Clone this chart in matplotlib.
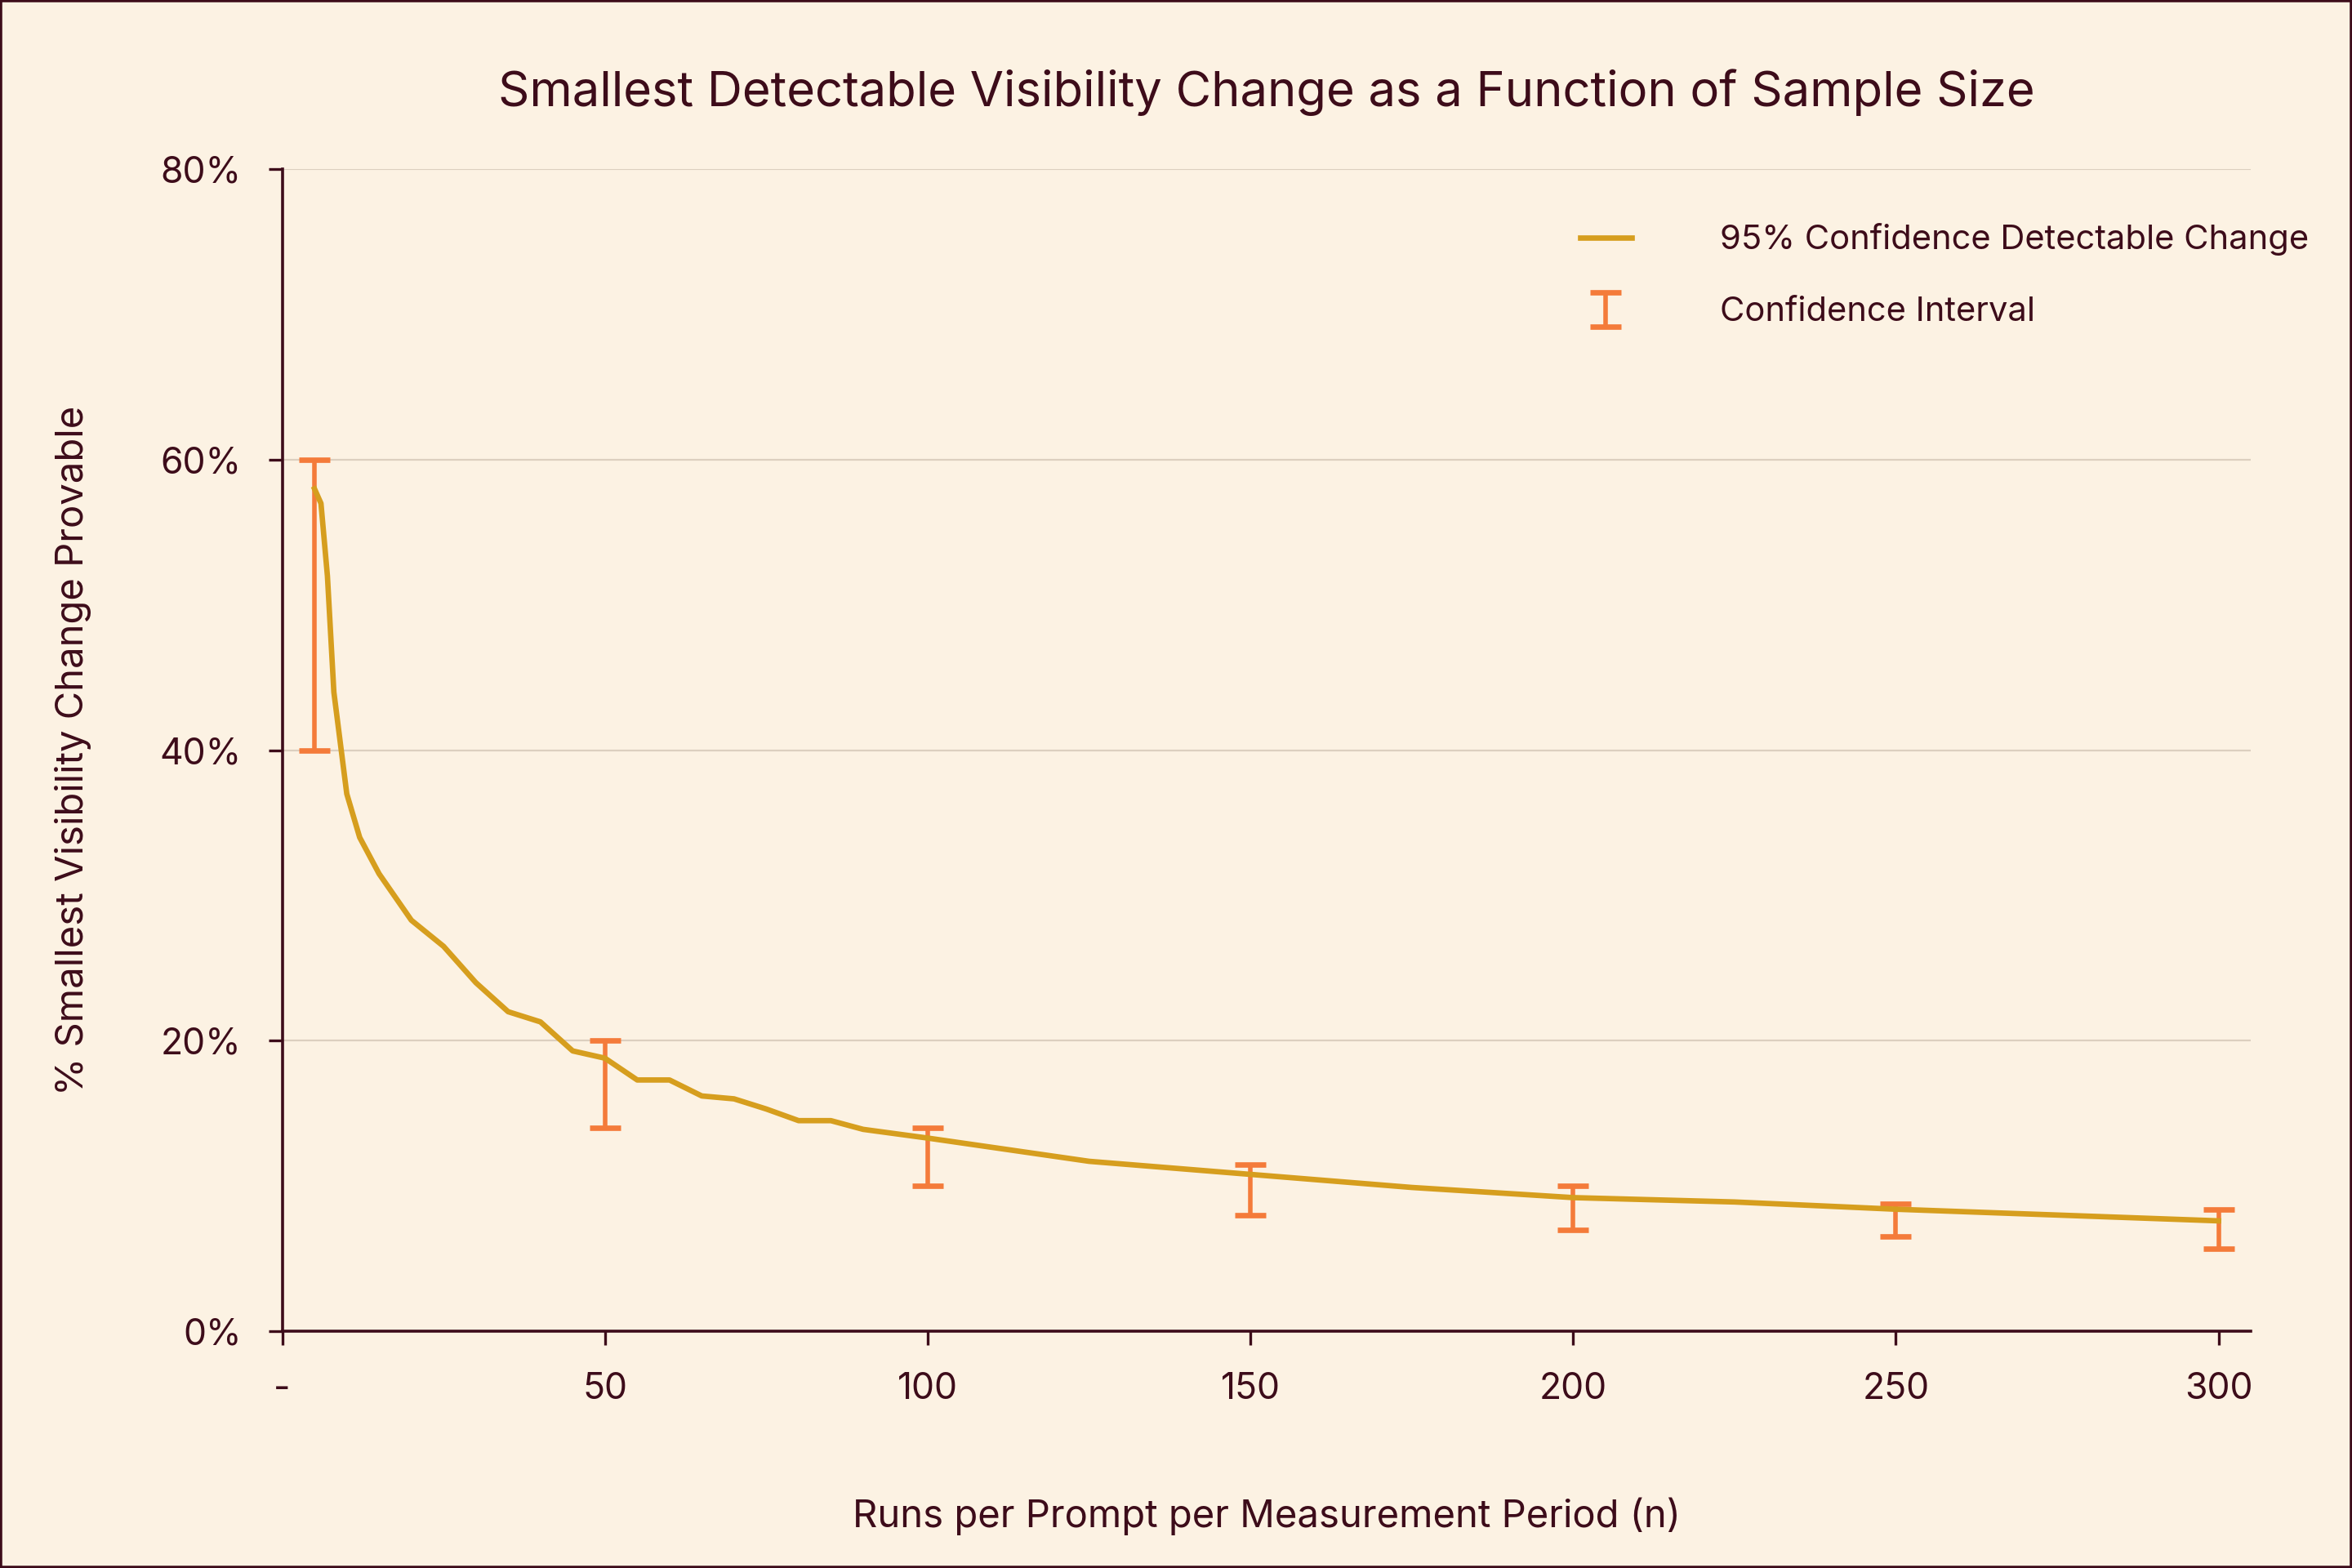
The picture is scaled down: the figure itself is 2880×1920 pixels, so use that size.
import matplotlib.pyplot as plt
import numpy as np

# Data
n_runs = [5, 6, 7, 8, 10, 12, 15, 20, 25, 30, 35, 40, 45, 50, 55, 60, 65, 70, 75, 80, 85, 90, 95,
          100, 125, 150, 175, 200, 225, 250, 275, 300]
detectable = [58.0, 57.0, 52.0, 44.0, 37.0, 34.0, 31.5, 28.3, 26.5, 24.0, 22.0, 21.3, 19.3, 18.8,
              17.3, 17.3, 16.2, 16.0, 15.3, 14.5, 14.5, 13.9, 13.6, 13.3, 11.7, 10.8, 9.9, 9.2,
              8.9, 8.4, 8.0, 7.6]

ci_x = [5, 50, 100, 150, 200, 250, 300]
ci_low = [40.0, 14.0, 10.0, 8.0, 7.0, 6.5, 5.7]
ci_high = [60.0, 20.0, 14.0, 11.5, 10.0, 8.8, 8.4]

x_ticks = [0, 50, 100, 150, 200, 250, 300]
x_tick_labels = ['-', '50', '100', '150', '200', '250', '300']

bg = '#FCF2E3'
ink = '#3D0C1A'
gold = '#D69E1E'
orange = '#F47B3A'

plt.rcParams['font.family'] = ['Inter', 'DejaVu Sans']

fig = plt.figure(figsize=(14.4, 9.6), dpi=200, facecolor=bg)
fig.patches.append(plt.Rectangle((0, 0), 1, 1, transform=fig.transFigure, fill=False,
                                 edgecolor=ink, linewidth=2))
ax = fig.add_axes([0.12, 0.151, 0.837, 0.741])
ax.set_facecolor(bg)

ax.plot(n_runs, detectable, color=gold, linewidth=2.4, label='95% Confidence Detectable Change',
        zorder=3)
mid = (np.array(ci_low) + np.array(ci_high)) / 2
err = (np.array(ci_high) - np.array(ci_low)) / 2
ax.errorbar(ci_x, mid, yerr=err, fmt='none', ecolor=orange, elinewidth=2, capsize=7,
            capthick=2.4, label='Confidence Interval', zorder=2)

ax.set_xlim(0, 305)
ax.set_ylim(0, 80)
ax.set_xticks(x_ticks)
ax.set_xticklabels(x_tick_labels)
ax.set_yticks([0, 20, 40, 60, 80])
ax.set_yticklabels(['0%', '20%', '40%', '60%', '80%'])
ax.grid(axis='y', color='#DCCFBF', linewidth=0.8)
ax.set_axisbelow(True)
for s in ['top', 'right']:
    ax.spines[s].set_visible(False)
for s in ['left', 'bottom']:
    ax.spines[s].set_color(ink)
    ax.spines[s].set_linewidth(1.3)
ax.tick_params(colors=ink, labelsize=16, length=6, width=1.2, pad=12)

ax.set_title('Smallest Detectable Visibility Change as a Function of Sample Size',
             color=ink, fontsize=21.5, pad=28)
ax.set_xlabel('Runs per Prompt per Measurement Period (n)', color=ink, fontsize=17, labelpad=40)
ax.set_ylabel('% Smallest Visibility Change Provable', color=ink, fontsize=17, labelpad=30)

leg = ax.legend(loc='upper right', frameon=False, fontsize=15, handlelength=1.5,
                labelspacing=1.2, handletextpad=2.6, bbox_to_anchor=(1.045, 0.98))
for t in leg.get_texts():
    t.set_color(ink)

fig.savefig('out.png', dpi=200, facecolor=bg)
